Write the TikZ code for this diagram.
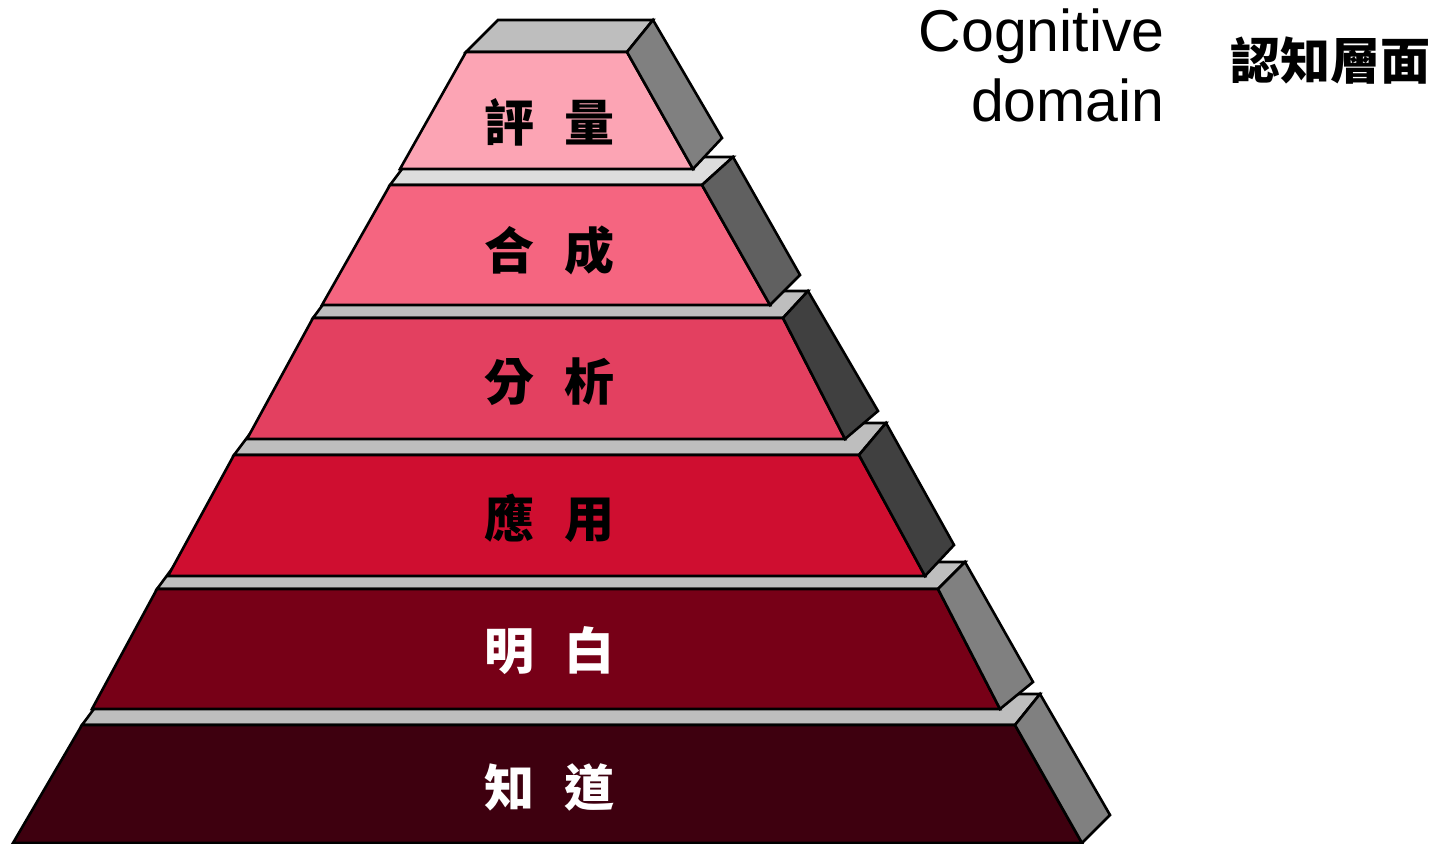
\documentclass[tikz,border=0pt]{standalone}
\usepackage{fontspec}
\setmainfont{Liberation Sans}
\newfontfamily\cjk{Noto Sans CJK TC}
\begin{document}
\begin{tikzpicture}[x=0.5pt,y=-0.5pt,
  edge/.style={draw=black,line width=1.3pt,line join=miter},
  lbl/.style={inner sep=0pt,font=\cjk\bfseries\fontsize{25}{30}\selectfont},
  hdr/.style={inner sep=0pt,font=\fontsize{29.5}{35}\selectfont}]
\definecolor{c1}{RGB}{252,164,180}
\definecolor{c2}{RGB}{245,101,128}
\definecolor{c3}{RGB}{227,64,96}
\definecolor{c4}{RGB}{207,14,48}
\definecolor{c5}{RGB}{119,0,23}
\definecolor{c6}{RGB}{62,0,15}
\definecolor{topA}{RGB}{190,190,190}
\definecolor{topB}{RGB}{221,221,221}
\definecolor{sideA}{RGB}{128,128,128}
\definecolor{sideB}{RGB}{96,96,96}
\definecolor{sideC}{RGB}{64,64,64}
\useasboundingbox (0,0) rectangle (1451,844);
% layer 6
\path[edge,fill=topA] (82,725) -- (1015,725) -- (1040,694) -- (105,694) -- cycle;
\path[edge,fill=c6] (82,725) -- (1015,725) -- (1082,843) -- (13,843) -- cycle;
\path[edge,fill=sideA] (1015,725) -- (1040,694) -- (1110,815) -- (1082,843) -- cycle;
% layer 5
\path[edge,fill=topA] (157,589) -- (938,589) -- (965,562) -- (177,562) -- cycle;
\path[edge,fill=c5] (157,589) -- (938,589) -- (1000,709) -- (92,709) -- cycle;
\path[edge,fill=sideA] (938,589) -- (965,562) -- (1033,682) -- (1000,709) -- cycle;
% layer 4
\path[edge,fill=topA] (234,455) -- (859,455) -- (886,423) -- (258,423) -- cycle;
\path[edge,fill=c4] (234,455) -- (859,455) -- (925,576) -- (168,576) -- cycle;
\path[edge,fill=sideC] (859,455) -- (886,423) -- (954,545) -- (925,576) -- cycle;
% layer 3
\path[edge,fill=topA] (313,318) -- (783,318) -- (808,291) -- (333,291) -- cycle;
\path[edge,fill=c3] (313,318) -- (783,318) -- (845,439) -- (247,439) -- cycle;
\path[edge,fill=sideC] (783,318) -- (808,291) -- (878,411) -- (845,439) -- cycle;
% layer 2
\path[edge,fill=topB] (390,185) -- (702,185) -- (733,157) -- (411,157) -- cycle;
\path[edge,fill=c2] (390,185) -- (702,185) -- (770,305) -- (322,305) -- cycle;
\path[edge,fill=sideB] (702,185) -- (733,157) -- (800,275) -- (770,305) -- cycle;
% layer 1
\path[edge,fill=topA] (466,52) -- (627,52) -- (653,20) -- (498,20) -- cycle;
\path[edge,fill=c1] (466,52) -- (627,52) -- (693,169) -- (400,169) -- cycle;
\path[edge,fill=sideA] (627,52) -- (653,20) -- (722,138) -- (693,169) -- cycle;
% labels
\node[lbl,text=black] (t1) at (549,122) {評\hspace{15pt}量};
\node[lbl,text=black] (t2) at (549,250) {合\hspace{15pt}成};
\node[lbl,text=black] (t3) at (549,382) {分\hspace{15pt}析};
\node[lbl,text=black] (t4) at (549,518) {應\hspace{15pt}用};
\node[lbl,text=white] (t5) at (549,651) {明\hspace{15pt}白};
\node[lbl,text=white] (t6) at (549,787) {知\hspace{15pt}道};
% header
\node[hdr,anchor=base east] (h1) at (1165,52) {Cognitive};
\node[hdr,anchor=base east] (h2) at (1165,122) {domain};
\node[lbl,text=black] (h3) at (1330,61) {認知層面};
\end{tikzpicture}
\end{document}
